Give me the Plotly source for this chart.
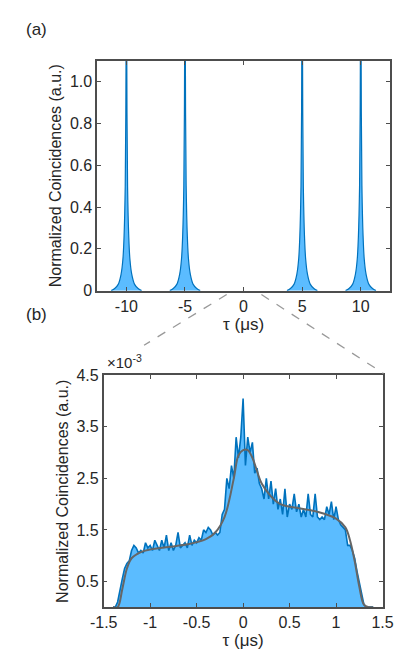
import numpy as np
import plotly.graph_objects as go

W, H = 409, 652
BLUE = "#0072BD"
FILL = "#5BBCFF"
GREY = "#4D4D4D"

# (a) peak centres and one peak profile (offset from centre, normalized counts)
peak_centres = [-10, -5, 5, 10]
peak_offsets = [-1.3, -1.0, -0.7, -0.45, -0.3, -0.2, -0.1, -0.05, 0, 0.05, 0.1, 0.2, 0.3, 0.45, 0.7, 1.0, 1.3]
peak_profile = [0, 0.01, 0.03, 0.08, 0.15, 0.26, 0.5, 0.85, 1.6, 0.85, 0.5, 0.26, 0.15, 0.08, 0.03, 0.01, 0]

# (b) zoomed coincidences (x1e-3), tau step 0.025 us from -1.4 to 1.4
tau_b = np.round(np.arange(-1.4, 1.4001, 0.025), 3)
coinc_b = [0, 0, 0.1, 0.35, 0.55, 0.75, 0.85, 0.9, 1.1, 1.2, 1.15, 1.05, 1.1, 1.05,
           1.25, 1.15, 1.2, 1.1, 1.3, 1.2, 1.1, 1.3, 1.15, 1.4, 1.1, 1.25, 1.1, 1.2,
           1.45, 1.15, 1.2, 1.25, 1.15, 1.4, 1.2, 1.3, 1.25, 1.35, 1.3, 1.5, 1.45, 1.55,
           1.5, 1.4, 1.45, 1.4, 1.45, 1.8, 1.9, 2.5, 2.3, 2.75, 2.5, 3.3, 2.9, 3.3,
           4.05, 2.75, 3.3, 3.0, 3.2, 2.6, 2.7, 2.4, 2.3, 2.1, 2.5, 2.1, 2.45, 2.0,
           2.3, 1.9, 2.1, 1.8, 2.3, 1.75, 2.0, 1.9, 2.2, 1.85, 2.0, 1.75, 1.9, 1.75,
           2.2, 1.8, 1.75, 2.2, 1.75, 1.7, 1.75, 1.7, 1.95, 1.8, 2.05, 1.7, 1.95, 1.7,
           1.6, 1.55, 1.5, 1.2, 1.2, 1.1, 0.95, 0.7, 0.5, 0.3, 0.05, 0, 0, 0, 0]
fit_tau = [-1.4, -1.35, -1.3, -1.25, -1.2, -1.1, -1.0, -0.8, -0.6, -0.4, -0.3, -0.2, -0.1,
           -0.05, 0, 0.05, 0.1, 0.2, 0.3, 0.4, 0.6, 0.8, 1.0, 1.1, 1.15, 1.2, 1.25, 1.3, 1.35, 1.4]
fit_val = [0, 0, 0.35, 0.75, 0.95, 1.07, 1.12, 1.17, 1.22, 1.32, 1.45, 1.75, 2.5,
           2.95, 3.05, 3.05, 2.9, 2.4, 2.15, 2.0, 1.92, 1.85, 1.72, 1.55, 1.3, 0.9, 0.4, 0.05, 0, 0]

fig = go.Figure()
for c in peak_centres:
    fig.add_trace(go.Scatter(x=[c + o for o in peak_offsets], y=peak_profile, mode="lines",
                             line=dict(color=BLUE, width=1.2, shape="spline"),
                             fill="tozeroy", fillcolor=FILL, xaxis="x", yaxis="y"))
fig.add_trace(go.Scatter(x=tau_b, y=np.array(coinc_b) * 1e-3, mode="lines",
                         line=dict(color=BLUE, width=1.6), fill="tozeroy", fillcolor=FILL,
                         xaxis="x2", yaxis="y2"))
fig.add_trace(go.Scatter(x=fit_tau, y=np.array(fit_val) * 1e-3, mode="lines",
                         line=dict(color="#666666", width=2, shape="spline"),
                         xaxis="x2", yaxis="y2"))

ax = dict(showline=True, mirror="ticks", linecolor=GREY, linewidth=1.5, ticks="inside",
          ticklen=4, tickcolor=GREY, showgrid=False, zeroline=False,
          tickfont=dict(size=16, color="#262626"))
fig.update_layout(
    width=W, height=H, margin=dict(l=0, r=0, t=0, b=0), showlegend=False,
    plot_bgcolor="white", paper_bgcolor="white",
    font=dict(family="Liberation Sans, Arial", color="#262626"),
    xaxis=dict(ax, domain=[80 / W, 392 / W], range=[-12.5, 12.5], tickvals=[-10, -5, 0, 5, 10],
               ticktext=["-10", "-5", "0", "5", "10"],
               title=dict(text="\u03c4 (\u03bcs)", font=dict(size=17), standoff=2)),
    yaxis=dict(ax, domain=[1 - 282 / H, 1 - 46 / H], range=[0, 1.1],
               tickvals=[0, 0.2, 0.4, 0.6, 0.8, 1.0], ticktext=["0", "0.2", "0.4", "0.6", "0.8", "1.0"],
               title=dict(text="Normalized Coincidences (a.u.)", font=dict(size=16), standoff=4)),
    xaxis2=dict(ax, anchor="y2", domain=[87 / W, 384 / W], range=[-1.5, 1.5],
                tickvals=[-1.5, -1, -0.5, 0, 0.5, 1, 1.5],
                ticktext=["-1.5", "-1", "-0.5", "0", "0.5", "1", "1.5"],
                title=dict(text="\u03c4 (\u03bcs)", font=dict(size=17), standoff=2)),
    yaxis2=dict(ax, anchor="x2", domain=[1 - 607 / H, 1 - 369 / H], range=[0, 4.5e-3],
                tickvals=[0.5e-3, 1.5e-3, 2.5e-3, 3.5e-3, 4.5e-3],
                ticktext=["0.5", "1.5", "2.5", "3.5", "4.5"],
                title=dict(text="Normalized Coincidences (a.u.)", font=dict(size=16), standoff=4)),
)

# dashed zoom lines and labels
for x0, y0, x1, y1 in [(218, 286, 130, 338), (255, 286, 385, 367)]:
    fig.add_shape(type="line", xref="paper", yref="paper", x0=x0 / W, y0=1 - y0 / H,
                  x1=x1 / W, y1=1 - y1 / H, line=dict(color="#999999", width=1.3, dash="dash"))
fig.add_annotation(text="(a)", x=2 / W, y=1 - 2 / H, xref="paper", yref="paper",
                   xanchor="left", yanchor="top", showarrow=False, font=dict(size=17))
fig.add_annotation(text="(b)", x=2 / W, y=1 - 295 / H, xref="paper", yref="paper",
                   xanchor="left", yanchor="top", showarrow=False, font=dict(size=17))
fig.add_annotation(text="\u00d710<sup>-3</sup>", x=88 / W, y=1 - 367 / H, xref="paper", yref="paper",
                   xanchor="left", yanchor="bottom", showarrow=False, font=dict(size=15))

fig.write_html("out.html")
